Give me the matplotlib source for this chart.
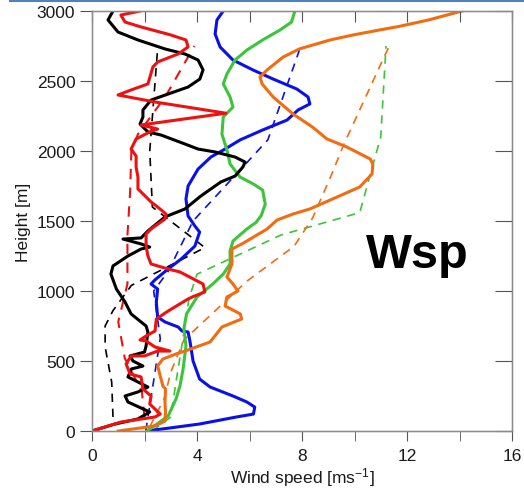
import numpy as np
import matplotlib
matplotlib.use("Agg")
from matplotlib import pyplot as plt
from matplotlib.lines import Line2D

plt.rcParams['font.family'] = ['Liberation Sans', 'DejaVu Sans']

# solid profiles: (wind speed, height)
black_ws = [0.0, 0.88, 1.75, 2.2, 1.37, 1.26, 1.75, 2.13, 1.75, 1.37, 1.5, 1.94, 1.56, 1.45, 2.0, 2.06, 2.13, 2.06, 1.49, 1.26, 0.93,
            0.72, 0.8, 1.37, 1.87, 2.2, 1.87, 1.18, 1.87, 2.13, 2.78, 3.54, 4.15, 4.91, 5.45, 5.75, 5.83, 5.45, 4.69, 4.04,
            3.54, 2.63, 2.13, 1.83, 1.94, 1.94, 2.25, 2.9, 3.66, 4.11, 4.23, 4.04, 3.54, 2.78, 1.75, 0.99, 0.61, 0.8]
black_h = [0, 50, 86, 136, 207, 250, 279, 314, 350, 386, 443, 464, 500, 536, 564, 607, 707, 750, 836, 921, 1014,
           1121, 1179, 1250, 1300, 1314, 1336, 1371, 1379, 1429, 1529, 1586, 1679, 1779, 1821, 1886, 1921, 1957, 1993, 2014,
           2050, 2114, 2136, 2193, 2243, 2293, 2364, 2407, 2457, 2514, 2579, 2650, 2693, 2729, 2793, 2850, 2936, 3000]

red_ws = [0.0, 1.1, 2.4, 2.6, 2.2, 2.25, 1.94, 1.87, 1.45, 1.3, 1.49, 2.0, 2.5, 2.97, 2.4, 2.06, 1.83, 2.06, 2.4, 2.45, 2.9, 3.66,
          3.85, 4.3, 4.23, 3.35, 2.9, 2.25, 2.13, 2.06, 2.06, 2.25, 2.78, 2.82, 2.5, 2.25, 1.87, 1.75, 1.75, 1.68, 1.68, 1.49,
          1.68, 2.2, 2.5, 1.87, 5.1, 2.4, 0.99, 1.49, 2.13, 2.32, 2.5, 3.28, 3.66, 3.58, 3.0, 1.87, 1.26, 1.1, 1.83]
red_h = [0, 64, 100, 121, 193, 250, 300, 386, 407, 479, 536, 536, 571, 571, 600, 643, 650, 679, 714, 800, 857, 943,
         960, 993, 1050, 1136, 1157, 1193, 1250, 1321, 1407, 1443, 1514, 1550, 1600, 1636, 1707, 1729, 1814, 1886, 1964, 2014,
         2086, 2136, 2157, 2186, 2270, 2350, 2400, 2436, 2479, 2600, 2636, 2693, 2743, 2793, 2829, 2886, 2921, 2971, 3000]

blue_ws = [2.1, 4.1, 5.5, 6.15, 6.2, 5.9, 5.37, 4.5, 4.1, 3.85, 3.73, 3.66, 3.43, 3.28, 2.78, 2.5, 2.45, 2.5,
           2.25, 2.4, 2.9, 3.4, 3.92, 4.1, 3.92, 3.66, 3.58, 3.66, 4.04, 4.53, 5.07,
           5.64, 6.5, 7.43, 7.85, 8.3, 8.23, 7.8, 6.9, 6.13, 5.37, 4.88, 4.69, 4.76, 5.0]
blue_h = [0, 50, 100, 121, 171, 207, 250, 314, 371, 500, 643, 707, 714, 743, 779, 814, 921, 1014,
          1050, 1080, 1157, 1229, 1321, 1421, 1464, 1536, 1657, 1750, 1871, 1957, 2014,
          2079, 2150, 2221, 2293, 2336, 2386, 2443, 2514, 2579, 2650, 2743, 2836, 2936, 3000]

green_ws = [2.1, 2.9, 3.2, 3.35, 3.47, 3.58, 3.5, 3.6, 4.0, 4.6, 5.0, 5.26, 5.26, 5.37, 5.9, 6.25, 6.45, 6.6, 6.5,
            6.15, 5.64, 5.26, 5.14, 4.95, 5.0, 5.37, 5.26, 5.0, 5.14, 5.45, 5.9, 6.5, 7.16, 7.6, 7.73]
green_h = [0, 107, 229, 321, 443, 607, 729, 836, 957, 1050, 1121, 1193, 1286, 1357, 1443, 1490, 1540, 1621, 1721,
           1764, 1814, 1907, 2007, 2121, 2243, 2314, 2386, 2479, 2550, 2650, 2721, 2793, 2864, 2921, 3000]

orange_ws = [1.0, 2.4, 2.78, 2.8, 2.78, 2.8, 2.7, 2.6, 2.5, 2.7, 3.2, 3.54, 4.5, 4.95, 5.7, 5.65, 5.07, 5.14, 5.56, 5.37,
             5.14, 5.33, 5.33, 5.71, 6.67, 7.05, 7.66, 8.3, 9.33, 10.2, 10.67, 10.7, 10.6, 9.7, 8.95, 8.4, 7.66, 6.9,
             6.48, 6.4, 6.67, 7.28, 7.9, 9.07, 9.95, 10.97, 11.7, 12.8, 14.1]
orange_h = [0, 36, 71, 136, 207, 300, 321, 393, 464, 514, 550, 571, 636, 743, 800, 836, 893, 957, 1000, 1050,
            1100, 1193, 1300, 1336, 1443, 1507, 1550, 1586, 1671, 1743, 1836, 1907, 1943, 2029, 2086, 2171, 2264, 2386,
            2479, 2529, 2579, 2671, 2729, 2793, 2829, 2865, 2890, 2935, 3000]

# dashed profiles
black_d_ws = [0.8, 0.75, 0.5, 0.5, 0.8, 1.5, 4.3, 2.3, 2.2, 2.5]
black_d_h = [100, 350, 600, 750, 860, 1040, 1310, 1600, 2000, 2730]

red_d_ws = [2.0, 1.9, 1.25, 1.0, 1.35, 1.35, 1.45, 1.5, 1.75, 2.8, 3.9]
red_d_h = [100, 280, 520, 780, 1050, 1400, 1700, 2000, 2120, 2390, 2750]

blue_d_ws = [2.05, 2.3, 2.6, 2.35, 2.9, 3.85, 6.7, 7.9]
blue_d_h = [0, 300, 660, 1000, 1140, 1500, 2080, 2720]

green_d_ws = [2.3, 3.0, 3.2, 3.5, 3.7, 4.0, 7.2, 10.2, 10.7, 11.0, 11.2]
green_d_h = [0, 100, 350, 700, 950, 1120, 1400, 1560, 1900, 2100, 2750]

orange_d_ws = [2.2, 2.75, 3.0, 3.5, 4.7, 5.9, 7.7, 8.4, 9.1, 9.6, 11.0, 11.35]
orange_d_h = [30, 230, 420, 650, 860, 1070, 1320, 1520, 1820, 2050, 2620, 2760]

c_black, c_red, c_blue, c_green, c_orange = 'black', '#ee1111', '#0a10e8', '#3cc43c', '#f26c12'

fig = plt.figure(figsize=(5.24, 5.02), dpi=100)
ax = fig.add_axes([92 / 524, 70 / 502, 420 / 524, 420 / 502])

lw_d = 1.2
ax.plot(black_d_ws, black_d_h, color=c_black, lw=lw_d, ls=(0, (5, 4)))
ax.plot(red_d_ws, red_d_h, color=c_red, lw=lw_d + 0.3, ls=(0, (5, 4)))
ax.plot(blue_d_ws, blue_d_h, color=c_blue, lw=lw_d, ls=(0, (5, 4)))
ax.plot(green_d_ws, green_d_h, color=c_green, lw=lw_d, ls=(0, (5, 4)))
ax.plot(orange_d_ws, orange_d_h, color=c_orange, lw=lw_d, ls=(0, (5, 4)))

lw = 2.2
ax.plot(blue_ws, blue_h, color=c_blue, lw=lw)
ax.plot(green_ws, green_h, color=c_green, lw=lw)
ax.plot(orange_ws, orange_h, color=c_orange, lw=lw)
ax.plot(black_ws, black_h, color=c_black, lw=lw)
ax.plot(red_ws, red_h, color=c_red, lw=lw)

ax.set_xlim(0, 16)
ax.set_ylim(0, 3000)
ax.set_xticks(np.arange(0, 17, 4))
ax.set_xticks(np.arange(0, 17, 2), minor=True)
ax.set_yticks(np.arange(0, 3001, 500))

for s in ax.spines.values():
    s.set_color('#8c8c8c')
    s.set_linewidth(1.0)

ax.tick_params(axis='both', which='both', colors='#555555', labelcolor='#1a1a1a', labelsize=12.5)
ax.tick_params(axis='x', which='both', direction='out', length=7, pad=5)
ax.tick_params(axis='y', which='both', direction='out', length=9, pad=3)

# top/right ticks point inward (separate twin axes)
axt = ax.twiny()
axt.set_xlim(0, 16)
axt.set_xticks(np.arange(0, 17, 2))
axt.tick_params(axis='x', direction='in', length=8, colors='#555555', labeltop=False)
axr = ax.twinx()
axr.set_ylim(0, 3000)
axr.set_yticks(np.arange(0, 3001, 500))
axr.tick_params(axis='y', direction='in', length=12, colors='#555555', labelright=False)
ax.tick_params(top=False, right=False)
for a in (axt, axr):
    for s in a.spines.values():
        s.set_color('#8c8c8c')

ax.set_xlabel('Wind speed [ms$\\mathregular{^{-1}}$]', fontsize=12.5, color='#1a1a1a', labelpad=2)
ax.set_ylabel('Height [m]', fontsize=12.5, color='#1a1a1a', labelpad=4)

ax.text(10.45, 1175, 'Wsp', fontsize=35, fontweight='bold', ha='left', va='baseline')

fig.add_artist(Line2D([10 / 524, 1.0], [1 - 2 / 502, 1 - 2 / 502], color='#4f81bd', lw=1.5))

fig.savefig('out.png', dpi=100)
